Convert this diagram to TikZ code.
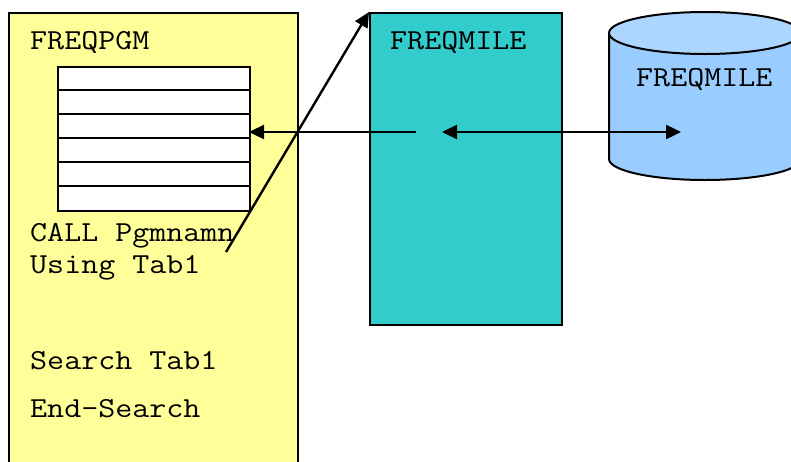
\documentclass[tikz,border=0pt]{standalone}
\usepackage{fontspec}
\newfontfamily\codefont{Latin Modern Mono}[FakeStretch=1.14]
\usetikzlibrary{arrows.meta}
\definecolor{pgmyellow}{HTML}{FFFF99}
\definecolor{modteal}{HTML}{33CCCC}
\definecolor{dbblue}{HTML}{99CCFF}
\definecolor{dbtop}{HTML}{ADD6FF}
\tikzset{
  box/.style={draw=black, line width=2pt, inner sep=0pt, anchor=north west},
  code/.style={font=\codefont\fontsize{29}{30}\selectfont, anchor=base west, inner sep=0pt},
  conn/.style={line width=2.4pt, -{Triangle[length=15pt,width=14pt]}},
  bothconn/.style={line width=2.4pt, {Triangle[length=15pt,width=14pt]}-{Triangle[length=15pt,width=14pt]}},
}
\begin{document}
\begin{tikzpicture}[x=1pt, y=-1pt]
\useasboundingbox (0,0) rectangle (791,461);
\clip (0,0) rectangle (791,461);

% calling program
\node[box, fill=pgmyellow, minimum width=289pt, minimum height=470pt] (pgm) at (8,12) {};
\node[code] (pgmname) at (30,49) {FREQPGM};

% Tab1 table with six rows
\node[box, fill=white, minimum width=192pt, minimum height=144pt] (tab) at (57,66) {};
\foreach \r in {90,114,138,162,186}
  \draw[line width=2pt] (57,\r) -- (249,\r);

\node[code] (call1) at (30,241) {CALL Pgmnamn};
\node[code] (call2) at (30,273) {Using Tab1};
\node[code] (srch) at (30,369) {Search Tab1};
\node[code] (esrch) at (30,417) {End-Search};

% called module
\node[box, fill=modteal, minimum width=192pt, minimum height=312pt] (mile) at (369,12) {};
\node[code] (milename) at (390,49) {FREQMILE};

% file cylinder (its right part runs past the edge)
\fill[dbblue] (609,33) -- (609,159) arc[start angle=180, end angle=0, x radius=96, y radius=21]
  -- (801,33) -- cycle;
\draw[line width=2pt] (609,33) -- (609,159) arc[start angle=180, end angle=0, x radius=96, y radius=21]
  -- (801,33);
\draw[line width=2pt, fill=dbtop] (705,33) ellipse[x radius=96, y radius=21];
\node[code] (dbname) at (636,86) {FREQMILE};

% connectors
\coordinate (retstart) at (416,132);
\coordinate (tabin) at (249,132);
\coordinate (rwstart) at (442,132);
\coordinate (rwend) at (681,132);
\coordinate (callfrom) at (226,252);

\draw[conn] (retstart) -- (tabin);
\draw[bothconn] (rwstart) -- (rwend);
\draw[conn] (callfrom) -- (mile.north west);
\end{tikzpicture}
\end{document}
